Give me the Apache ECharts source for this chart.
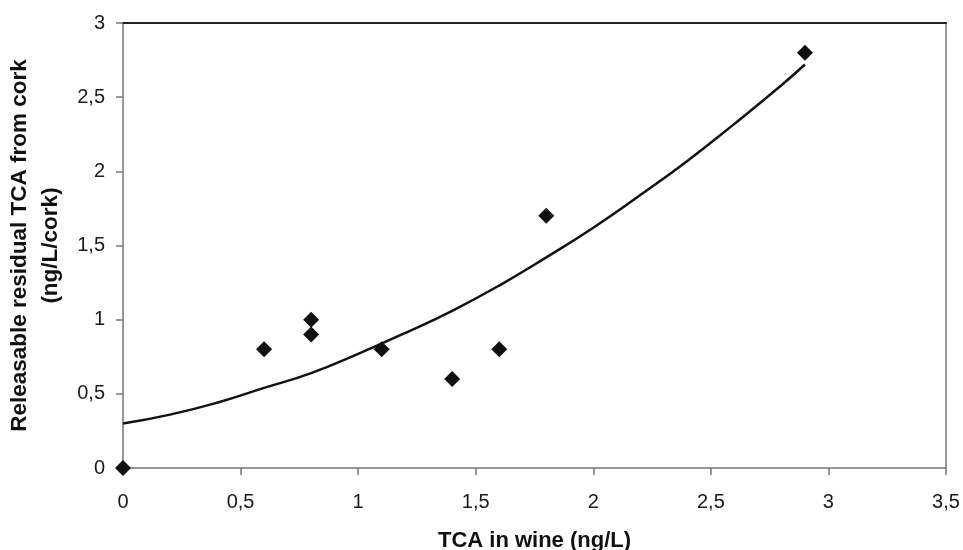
<!DOCTYPE html>
<html>
<head>
<meta charset="utf-8">
<script src="https://cdn.jsdelivr.net/npm/echarts@6/dist/echarts.min.js"></script>
<style>
  html, body { margin: 0; padding: 0; background: #fff; }
  #main { width: 963px; height: 550px; }
</style>
</head>
<body>
<div id="main"></div>
<script>
// measured points (TCA in wine, releasable TCA from cork)
var wineTca = [0, 0.6, 0.8, 0.8, 1.1, 1.4, 1.6, 1.8, 2.9];
var corkTca = [0, 0.8, 1.0, 0.9, 0.8, 0.6, 0.8, 1.7, 2.8];

// trend curve
var trendX = [0, 0.2, 0.4, 0.6, 0.8, 1.0, 1.2, 1.4, 1.6, 1.8, 2.0, 2.2, 2.4, 2.6, 2.8, 2.9];
var trendY = [0.30, 0.36, 0.44, 0.54, 0.64, 0.77, 0.91, 1.06, 1.23, 1.42, 1.62, 1.84, 2.07, 2.32, 2.58, 2.72];

var xTicks = [0, 0.5, 1, 1.5, 2, 2.5, 3, 3.5];
var yTicks = [0, 0.5, 1, 1.5, 2, 2.5, 3];

var fontName = '"Liberation Sans", Arial, sans-serif';

function commaFmt(v) {
    return String(v).replace('.', ',');
}

var points = [];
for (var i = 0; i < wineTca.length; i++) {
    points.push([wineTca[i], corkTca[i]]);
}
var trend = [];
for (var j = 0; j < trendX.length; j++) {
    trend.push([trendX[j], trendY[j]]);
}

var myChart = echarts.init(document.getElementById('main'));
var option = {
    backgroundColor: '#fff',
    animation: false,
    grid: {
        left: 123,
        right: 17,
        top: 23,
        bottom: 82,
        containLabel: false,
        outerBoundsMode: 'none'
    },
    xAxis: [
        {
            type: 'value',
            min: xTicks[0],
            max: xTicks[xTicks.length - 1],
            interval: 0.5,
            name: 'TCA in wine (ng/L)',
            nameLocation: 'middle',
            nameGap: 62,
            nameTextStyle: { fontFamily: fontName, fontWeight: 'bold', fontSize: 22, color: '#111' },
            axisLine: { show: true, onZero: false, lineStyle: { color: '#777', width: 1.5 } },
            axisTick: { show: true, inside: false, length: 7, lineStyle: { color: '#777', width: 1.5 } },
            axisLabel: { margin: 24, fontFamily: fontName, fontSize: 20, color: '#1a1a1a', formatter: commaFmt },
            splitLine: { show: false }
        },
        {
            type: 'value',
            position: 'top',
            min: xTicks[0],
            max: xTicks[xTicks.length - 1],
            axisLine: { show: true, onZero: false, lineStyle: { color: '#222', width: 2 } },
            axisTick: { show: false },
            axisLabel: { show: false },
            splitLine: { show: false }
        }
    ],
    yAxis: [
        {
            type: 'value',
            min: yTicks[0],
            max: yTicks[yTicks.length - 1],
            interval: 0.5,
            name: 'Releasable residual TCA from cork\n(ng/L/cork)',
            nameLocation: 'middle',
            nameGap: 57,
            nameRotate: 90,
            nameTextStyle: { fontFamily: fontName, fontWeight: 'bold', fontSize: 22.5, color: '#111', lineHeight: 31, align: 'center' },
            axisLine: { show: true, onZero: false, lineStyle: { color: '#777', width: 1.5 } },
            axisTick: { show: true, inside: false, length: 7, lineStyle: { color: '#777', width: 1.5 } },
            axisLabel: { margin: 18, fontFamily: fontName, fontSize: 20, color: '#1a1a1a', formatter: commaFmt },
            splitLine: { show: false }
        },
        {
            type: 'value',
            position: 'right',
            min: yTicks[0],
            max: yTicks[yTicks.length - 1],
            axisLine: { show: true, onZero: false, lineStyle: { color: '#777', width: 1.5 } },
            axisTick: { show: false },
            axisLabel: { show: false },
            splitLine: { show: false }
        }
    ],
    series: [
        {
            name: 'trend',
            type: 'line',
            data: trend,
            smooth: true,
            showSymbol: false,
            lineStyle: { color: '#111', width: 2.5 },
            z: 2
        },
        {
            name: 'measured',
            type: 'scatter',
            data: points,
            symbol: 'diamond',
            symbolSize: 16,
            itemStyle: { color: '#111', opacity: 1 },
            z: 3
        }
    ]
};
myChart.setOption(option);
</script>
</body>
</html>
